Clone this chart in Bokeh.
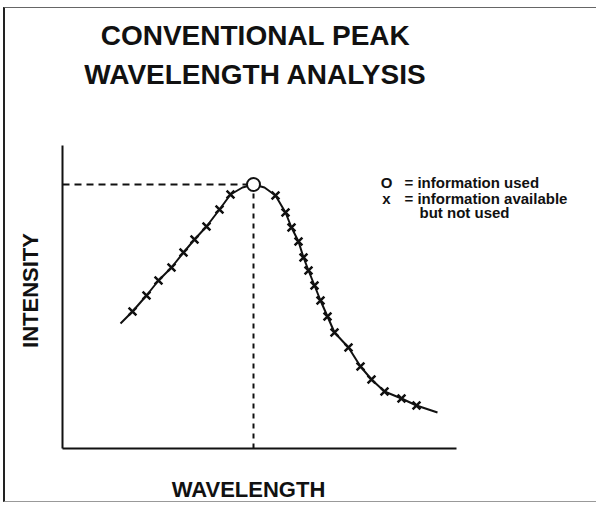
import math
from bokeh.plotting import figure
from bokeh.models import Label, FixedTicker, Range1d
from bokeh.embed import file_html
from bokeh.resources import INLINE

# ---- data (arbitrary units) ----
start_wl, start_int = 58, 125
end_wl, end_int = 375, 36
peak_wl, peak_int = 191, 264
rising_wl = [70, 84, 96, 109, 121, 132, 144, 157, 168]
rising_int = [137, 153, 168, 181, 196, 209, 222, 239, 254]
falling_wl = [213, 223, 229, 236, 241, 246, 252, 258, 265, 272, 286, 298, 309, 322, 339, 354]
falling_int = [253, 236, 221, 207, 191, 178, 163, 148, 132, 116, 101, 82, 69, 57, 50, 43]
shoulder_wl = [180, 202]
shoulder_int = [261, 261]
axis_wl_extent = (0, 394)
axis_int_extent = (0, 303)

title_lines = ["CONVENTIONAL PEAK", "WAVELENGTH ANALYSIS"]
x_label = "WAVELENGTH"
y_label = "INTENSITY"
legend_used = "= information used"
legend_unused = ["= information available", "but not used"]

# curve through all points
pts = sorted(
    [(start_wl, start_int), (end_wl, end_int), (peak_wl, peak_int)]
    + list(zip(rising_wl, rising_int))
    + list(zip(falling_wl, falling_int))
    + list(zip(shoulder_wl, shoulder_int))
)
curve_wl = [q[0] for q in pts]
curve_int = [q[1] for q in pts]
cross_wl = rising_wl + falling_wl
cross_int = rising_int + falling_int

FONT = "Liberation Sans"
INK = "#111111"

p = figure(
    width=593, height=495, title=None,
    output_backend="svg", toolbar_location=None,
    x_range=Range1d(-57, 536), y_range=Range1d(-55, 440),
    min_border_left=0, min_border_right=0,
    min_border_top=0, min_border_bottom=0,
)
p.styles = {
    "margin-left": "3px",
    "margin-top": "7px",
    "border-left": "2px solid #222222",
    "border-top": "1px solid #666666",
    "border-bottom": "1px solid #999999",
}
p.outline_line_color = None
p.grid.visible = False
p.background_fill_color = "white"
p.border_fill_color = "white"

for ax in (p.xaxis[0], p.yaxis[0]):
    ax.ticker = FixedTicker(ticks=[])
    ax.major_tick_line_color = None
    ax.minor_tick_line_color = None
    ax.major_label_text_font_size = "0px"
    ax.axis_line_width = 2
    ax.axis_line_color = INK
    ax.fixed_location = 0

p.xaxis.bounds = axis_wl_extent
p.yaxis.bounds = axis_int_extent

# axis titles
axis_style = dict(text_font=FONT, text_font_style="bold", text_font_size="22px",
                  text_color=INK, text_align="center", text_baseline="middle")
p.add_layout(Label(x=186, y=-41, text=x_label, **axis_style))
p.add_layout(Label(x=-32, y=158, text=y_label, angle=math.pi / 2, **axis_style))

# dashed guide lines to the peak
p.line([0, peak_wl], [peak_int, peak_int], line_dash="7 5", line_width=2, line_color=INK)
p.line([peak_wl, peak_wl], [0, peak_int], line_dash="5 5", line_width=2, line_color=INK)

# curve and markers
p.line(curve_wl, curve_int, line_width=2, line_color=INK)
p.scatter(cross_wl, cross_int, marker="x", size=11, line_width=2.5, line_color=INK)
p.scatter([peak_wl], [peak_int], marker="circle", size=13, line_width=2,
          line_color=INK, fill_color="white")

# title
for txt, yy in zip(title_lines, [413, 374]):
    p.add_layout(Label(x=193, y=yy, text=txt, text_align="center",
                       text_baseline="alphabetic", text_font=FONT,
                       text_font_style="bold", text_font_size="28px",
                       text_color=INK))

# legend (text)
legend_style = dict(text_font=FONT, text_font_style="bold", text_font_size="15px",
                    text_color=INK, text_baseline="middle")
p.add_layout(Label(x=324, y=266, text="O", text_align="center", **legend_style))
p.add_layout(Label(x=324, y=250, text="x", text_align="center", **legend_style))
p.add_layout(Label(x=342, y=266, text=legend_used, text_align="left", **legend_style))
p.add_layout(Label(x=342, y=250, text=legend_unused[0], text_align="left", **legend_style))
p.add_layout(Label(x=357, y=236, text=legend_unused[1], text_align="left", **legend_style))

open("out.html", "w").write(file_html(p, INLINE))
